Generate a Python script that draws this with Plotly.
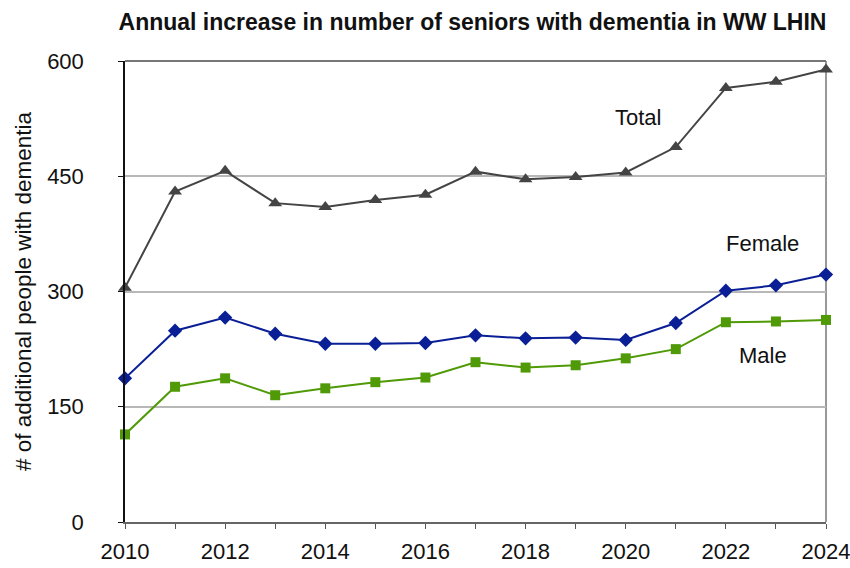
import plotly.graph_objects as go

years = list(range(2010, 2025))
total = [305, 430, 457, 415, 410, 419, 426, 456, 446, 449, 455, 488, 565, 573, 589]
female = [187, 249, 266, 245, 232, 232, 233, 243, 239, 240, 237, 259, 301, 308, 322]
male = [114, 176, 187, 165, 174, 182, 188, 208, 201, 204, 213, 225, 260, 261, 263]

y_ticks = [0, 150, 300, 450, 600]
x_ticks = list(range(2010, 2025, 2))

FONT = "Liberation Sans, Arial, Helvetica, sans-serif"

fig = go.Figure()
fig.add_trace(go.Scatter(x=years, y=total, mode="lines+markers", name="Total",
                         line=dict(color="#444444", width=2), cliponaxis=False,
                         marker=dict(symbol="triangle-up", size=12, color="#444444")))
fig.add_trace(go.Scatter(x=years, y=female, mode="lines+markers", name="Female",
                         line=dict(color="#0a1f96", width=2), cliponaxis=False,
                         marker=dict(symbol="diamond", size=11, color="#0a1f96")))
fig.add_trace(go.Scatter(x=years, y=male, mode="lines+markers", name="Male",
                         line=dict(color="#4f9a06", width=2), cliponaxis=False,
                         marker=dict(symbol="square", size=10, color="#4f9a06")))

for txt, xx, yy in [("Total", 2020.25, 526), ("Female", 2022.74, 363), ("Male", 2022.74, 217)]:
    fig.add_annotation(x=xx, y=yy, text=txt, showarrow=False,
                       font=dict(size=22, color="#111111", family=FONT))

# borders top and right
fig.add_shape(type="line", xref="paper", yref="paper", x0=0, x1=1, y0=1, y1=1,
              line=dict(color="#777777", width=2), layer="below")
fig.add_shape(type="line", xref="paper", yref="paper", x0=1, x1=1, y0=0, y1=1,
              line=dict(color="#777777", width=1.5), layer="below")

fig.update_layout(
    width=850, height=568,
    margin=dict(l=125, r=24, t=61, b=46),
    paper_bgcolor="white", plot_bgcolor="white",
    showlegend=False,
    font=dict(family=FONT, color="#111111"),
    title=dict(text="<b>Annual increase in number of seniors with dementia in WW LHIN</b>",
               x=472.5 / 850, xanchor="center", xref="container",
               y=1 - 22 / 568, yanchor="middle",
               font=dict(size=23, color="#111111", family=FONT)),
    xaxis=dict(range=[2010, 2024], tickvals=x_ticks, ticktext=[str(v) for v in x_ticks],
               ticks="outside", ticklen=5, tickcolor="#555555",
               minor=dict(tickvals=years, ticks="outside", ticklen=5, tickcolor="#555555"),
               showgrid=False, zeroline=False, showline=True, linecolor="#666666", linewidth=1.5,
               tickfont=dict(size=22, family=FONT, color="#111111"),
               ticklabelstandoff=4, automargin=False, ticklabeloverflow="allow"),
    yaxis=dict(range=[0, 600], tickvals=y_ticks, ticktext=[str(v) for v in y_ticks],
               ticks="outside", ticklen=5, tickcolor="#111111",
               showgrid=True, gridcolor="#b8b8b8", gridwidth=2,
               zeroline=False, showline=True, linecolor="#111111", linewidth=1.5,
               tickfont=dict(size=22, family=FONT, color="#111111"),
               ticklabelstandoff=30, automargin=False, ticklabeloverflow="allow",
               title=dict(text="# of additional people with dementia",
                          font=dict(size=22.5, family=FONT, color="#111111"), standoff=9)),
)

fig.write_html("out.html")
